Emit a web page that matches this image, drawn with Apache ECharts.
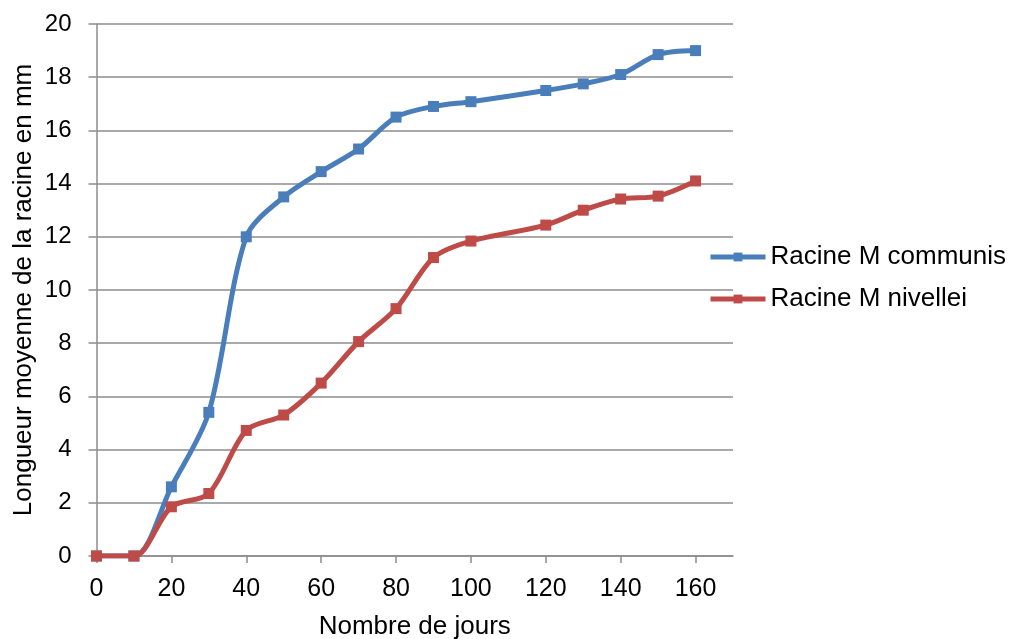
<!DOCTYPE html>
<html>
<head>
<meta charset="utf-8">
<script src="https://cdn.jsdelivr.net/npm/echarts@6/dist/echarts.min.js"></script>
<style>
  html, body { margin: 0; padding: 0; background: #fff; }
  #chart { width: 1012px; height: 639px; }
</style>
</head>
<body>
<div id="chart"></div>
<script>
// Days of observation (no reading at day 110)
const days = [0, 10, 20, 30, 40, 50, 60, 70, 80, 90, 100, 120, 130, 140, 150, 160];
// Mean root length (mm)
const communis = [0, 0, 2.6, 5.4, 12.0, 13.5, 14.45, 15.3, 16.5, 16.9, 17.08, 17.5, 17.75, 18.1, 18.85, 19.0];
const nivellei = [0, 0, 1.85, 2.35, 4.72, 5.3, 6.5, 8.06, 9.3, 11.22, 11.84, 12.44, 13.0, 13.42, 13.53, 14.1];
const seriesNames = ['Racine M communis', 'Racine M nivellei'];
const seriesColors = ['#4a7ebb', '#be4b48'];
const xTicks = [0, 20, 40, 60, 80, 100, 120, 140, 160];
const yTicks = [0, 2, 4, 6, 8, 10, 12, 14, 16, 18, 20];

const font = '"Liberation Sans", Arial, sans-serif';
const gridGray = '#8c8c8c';

const pairs = vals => days.map((d, i) => [d, vals[i]]);

const makeSeries = (i, vals) => ({
  name: seriesNames[i],
  type: 'line',
  data: pairs(vals),
  smooth: 0.3,
  symbol: 'rect',
  symbolSize: 11,
  color: seriesColors[i],
  lineStyle: { width: 5, color: seriesColors[i] },
  itemStyle: { color: seriesColors[i] },
  z: 3 + i
});

const chart = echarts.init(document.getElementById('chart'), null, { renderer: 'canvas' });
chart.setOption({
  animation: false,
  backgroundColor: '#ffffff',
  grid: { left: 96.5, right: 279, top: 24, bottom: 83, containLabel: false, outerBoundsMode: 'none' },
  legend: {
    orient: 'vertical',
    left: 708,
    top: 244,
    padding: 0,
    itemGap: 16,
    itemWidth: 55,
    itemHeight: 11,
    lineStyle: { width: 5 },
    textStyle: { fontFamily: font, fontSize: 26, color: '#000', padding: 0 },
    data: seriesNames
  },
  xAxis: {
    type: 'value',
    min: 0,
    max: 170,
    interval: 20,
    name: 'Nombre de jours',
    nameLocation: 'middle',
    nameGap: 58,
    nameMoveOverlap: false,
    nameTextStyle: { fontFamily: font, fontSize: 26, color: '#000' },
    axisLine: { show: true, onZero: false, lineStyle: { color: gridGray, width: 1.5 } },
    axisTick: { show: true, length: 7, inside: false, customValues: xTicks, lineStyle: { color: gridGray, width: 1.5 } },
    axisLabel: { margin: 21, fontFamily: font, fontSize: 25, color: '#000', customValues: xTicks },
    splitLine: { show: false }
  },
  yAxis: {
    type: 'value',
    min: 0,
    max: 20,
    interval: 2,
    name: 'Longueur moyenne de la racine en mm',
    nameLocation: 'middle',
    nameGap: 60,
    nameMoveOverlap: false,
    nameTextStyle: { fontFamily: font, fontSize: 26, color: '#000' },
    axisLine: { show: true, lineStyle: { color: gridGray, width: 1.5 } },
    axisTick: { show: true, length: 8, inside: false, customValues: yTicks, lineStyle: { color: gridGray, width: 1.5 } },
    axisLabel: { margin: 25, fontFamily: font, fontSize: 24, color: '#000', customValues: yTicks },
    splitLine: { show: true, lineStyle: { color: gridGray, width: 1.5 } }
  },
  series: [makeSeries(0, communis), makeSeries(1, nivellei)]
});
</script>
</body>
</html>
